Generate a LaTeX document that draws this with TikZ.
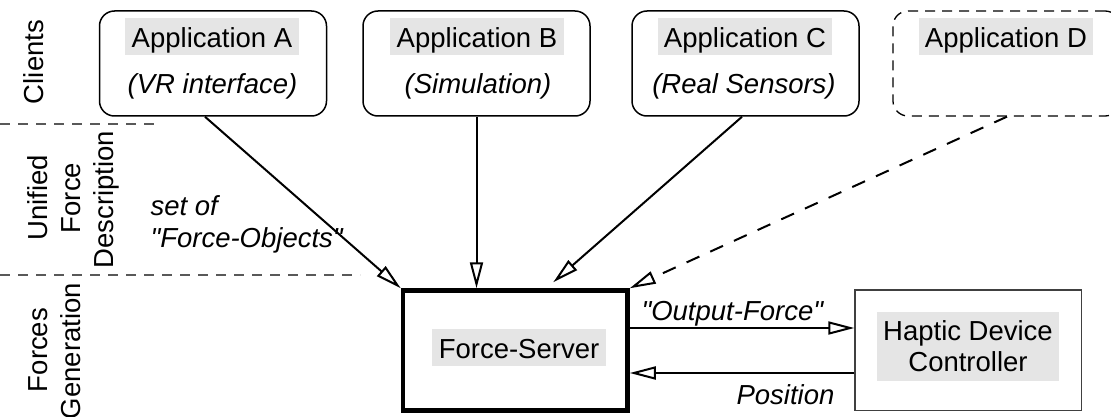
\documentclass[tikz,border=0pt]{standalone}
\usepackage{fontspec}
\setmainfont{Liberation Sans}[Ligatures=TeXOff]
\usetikzlibrary{arrows.meta,calc}
\begin{document}
\begin{tikzpicture}[x=1pt,y=-1pt,
  every node/.style={font=\fontsize{27.5}{31}\selectfont},
  appbox/.style={draw, rounded corners=15pt, line width=1.5pt,
    minimum width=227pt, minimum height=105pt, inner sep=0pt},
  hilite/.style={fill=black!10, minimum width=174pt, minimum height=37pt,
    inner sep=0pt, text height=26pt, text depth=3pt},
  notetext/.style={font=\fontsize{27.5}{31}\selectfont\itshape},
  layerlabel/.style={rotate=90, anchor=base},
  sepline/.style={draw=black!65, line width=1.2pt, dash pattern=on 10pt off 8pt},
  flowarrow/.style={line width=2pt, -{Triangle[open, length=26pt, width=13pt]}},
]
\useasboundingbox (0,0) rectangle (1111,417);

% layer separators
\coordinate (s1a) at (0,124);
\coordinate (s1b) at (160,124);
\coordinate (s2a) at (0,275);
\coordinate (s2b) at (360,275);
\draw[sepline] (s1a) -- (s1b);
\draw[sepline] (s2a) -- (s2b);

% layer names
\node[layerlabel] (lclients) at (43,62) {Clients};
\node[layerlabel] (lunified) at (47,198) {Unified};
\node[layerlabel] (lforce) at (80,198) {Force};
\node[layerlabel] (ldesc) at (113,199.5) {Description};
\node[layerlabel] (lforces) at (47,350) {Forces};
\node[layerlabel] (lgen) at (80,351) {Generation};

% client applications
\node[appbox] (A) at (213,63.5) {};
\node[hilite] (Alab) at (212,36.5) {Application A};
\node[notetext, anchor=base] (Anote) at (212.5,94) {(VR interface)};

\node[appbox] (B) at (476.5,63.5) {};
\node[hilite] (Blab) at (477,36.5) {Application B};
\node[notetext, anchor=base] (Bnote) at (478,94) {(Simulation)};

\node[appbox] (C) at (745.5,63.5) {};
\node[hilite] (Clab) at (745,36.5) {Application C};
\node[notetext, anchor=base] (Cnote) at (744,94) {(Real Sensors)};

\node[appbox, line width=1.3pt, dash pattern=on 10pt off 7pt] (D) at (1006.5,63.5) {};
\node[hilite] (Dlab) at (1006,36.5) {Application D};

% force server and device
\node[draw, line width=4.5pt, minimum width=224.5pt, minimum height=120pt,
  inner sep=0pt] (fs) at (515.25,350.5) {};
\node[hilite] (fslab) at (519,347) {Force-Server};

\node[draw=black!75, line width=1.3pt, minimum width=226.7pt,
  minimum height=120.7pt, inner sep=0pt] (hdc) at (968.3,350.3) {};
\node[fill=black!10, align=center, minimum width=182pt, minimum height=69pt,
  inner sep=0pt] (hdclab) at (968,346.5) {Haptic Device\\Controller};

% labels on the connections
\node[notetext, anchor=base west] (setof) at (147,215) {set of};
\node[notetext, anchor=base west] (fobj) at (147,247) {"Force-Objects"};
\node[notetext, anchor=base west] (ofl) at (638,320) {"Output-Force"};
\node[notetext, anchor=base west] (posl) at (733,404) {Position};

% connections
\coordinate (ctip) at ($(fs.north)+(38,-6)$);
\coordinate (outy) at (0,328);
\coordinate (posy) at (0,373);

\draw[flowarrow] ($(A.south)+(-8,0)$) -- (fs.north west);
\draw[flowarrow] (B.south) -- (B.south |- fs.north);
\draw[flowarrow] ($(C.south)+(-3.5,0)$) -- (ctip);
\draw[flowarrow, dash pattern=on 14pt off 12pt] ($(D.south)+(0.5,0)$) -- (fs.north east);

\draw[flowarrow] (fs.east |- outy) -- (hdc.west |- outy);
\draw[flowarrow] (hdc.west |- posy) -- (fs.east |- posy);
\end{tikzpicture}
\end{document}
